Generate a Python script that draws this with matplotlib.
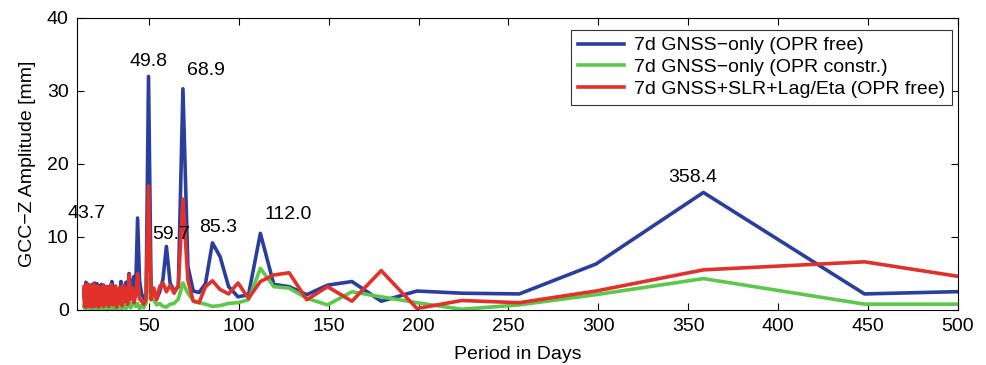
import matplotlib
matplotlib.use("Agg")

import matplotlib.pyplot as plt

plt.rcParams['font.family'] = ['Liberation Sans', 'DejaVu Sans']

# periods of the spectral lines [days], long to short
periods = [
    597.33, 448.00, 358.40, 298.67, 256.00, 224.00, 199.11, 179.20, 162.91, 149.33,
    137.85, 128.00, 119.47, 112.00, 105.41, 99.56, 94.32, 89.60, 85.33, 81.45,
    77.91, 74.67, 71.68, 68.92, 66.37, 64.00, 61.79, 59.73, 57.81, 56.00,
    54.30, 52.71, 51.20, 49.78, 48.43, 47.16, 45.95, 44.80, 43.71, 42.67,
    41.67, 40.73, 39.82, 38.96, 38.13, 37.33, 36.57, 35.84, 35.14, 34.46,
    33.81, 33.19, 32.58, 32.00, 31.44, 30.90, 30.37, 29.87, 29.38, 28.90,
    28.44, 28.00, 27.57, 27.15, 26.75, 26.35, 25.97, 25.60, 25.24, 24.89,
    24.55, 24.22, 23.89, 23.58, 23.27, 22.97, 22.68, 22.40, 22.12, 21.85,
    21.59, 21.33, 21.08, 20.84, 20.60, 20.36, 20.13, 19.91, 19.69, 19.48,
    19.27, 19.06, 18.86, 18.67, 18.47, 18.29, 18.10, 17.92, 17.74, 17.57,
    17.40, 17.23, 17.07, 16.91, 16.75, 16.59, 16.44, 16.29, 16.14, 16.00,
    15.86, 15.72, 15.58, 15.45, 15.32, 15.19, 15.06, 14.93, 14.81, 14.69,
    14.57, 14.45, 14.34, 14.22, 14.11, 14.00,
]

gnss_free = [
    3.1, 2.2, 16.1, 6.3, 2.2, 2.3, 2.6, 1.2, 3.9, 3.4,
    2.1, 3.2, 3.5, 10.5, 2.1, 1.8, 3.2, 7.3, 9.2, 3.6,
    2.4, 2.6, 6.0, 30.3, 3.2, 2.6, 3.7, 8.7, 4.2, 2.5,
    1.5, 2.8, 3.0, 32.0, 1.4, 1.6, 2.2, 4.0, 12.6, 3.0,
    4.6, 2.2, 3.5, 5.0, 2.0, 3.8, 1.5, 2.6, 1.2, 3.9,
    2.0, 1.0, 2.5, 1.3, 3.0, 1.8, 0.9, 2.2, 3.9, 1.5,
    2.8, 1.0, 2.4, 3.2, 1.2, 2.0, 0.8, 3.0, 1.6, 3.4,
    2.1, 1.0, 2.9, 3.5, 1.4, 2.6, 1.1, 3.3, 2.0, 1.2,
    3.0, 2.4, 3.6, 1.5, 2.8, 1.0, 3.4, 2.2, 3.7, 1.6,
    2.5, 1.2, 3.1, 2.0, 3.5, 1.3, 2.7, 1.0, 3.2, 2.3,
    1.1, 2.9, 3.4, 1.5, 2.6, 1.0, 3.0, 1.8, 3.3, 1.2,
    2.5, 3.6, 1.4, 2.8, 1.1, 3.0, 2.0, 3.8, 1.5, 2.7,
    1.0, 3.2, 2.2, 1.3, 2.9, 2.0,
]

gnss_constr = [
    0.8, 0.8, 4.3, 2.1, 0.7, 0.1, 1.0, 1.8, 2.5, 0.7,
    1.6, 3.0, 3.2, 5.7, 1.4, 1.0, 0.9, 0.6, 0.5, 0.8,
    1.0, 1.3, 2.3, 3.7, 1.5, 0.9, 0.8, 0.4, 0.5, 0.9,
    0.7, 1.4, 2.0, 4.2, 1.0, 0.3, 0.6, 0.2, 0.9, 0.5,
    1.4, 0.8, 0.3, 1.2, 0.6, 0.2, 0.9, 0.4, 0.1, 0.7,
    0.3, 0.8, 0.2, 0.5, 0.9, 0.1, 0.4, 0.7, 0.2, 0.6,
    0.3, 0.8, 0.1, 0.5, 0.7, 0.2, 0.4, 0.9, 0.3, 0.1,
    0.6, 0.4, 0.8, 0.2, 0.5, 0.1, 0.7, 0.3, 0.6, 0.2,
    0.8, 0.4, 0.1, 0.6, 0.3, 0.7, 0.2, 0.5, 0.1, 0.8,
    0.4, 0.6, 0.2, 0.5, 0.3, 0.7, 0.1, 0.4, 0.6, 0.2,
    0.8, 0.3, 0.5, 0.1, 0.7, 0.4, 0.2, 0.6, 0.3, 0.8,
    0.1, 0.5, 0.4, 0.7, 0.2, 0.6, 0.3, 0.5, 0.1, 0.8,
    0.4, 0.2, 0.6, 0.3, 0.7, 0.5,
]

gnss_slr = [
    0.9, 6.6, 5.5, 2.6, 1.0, 1.3, 0.2, 5.4, 1.2, 3.2,
    1.4, 5.1, 4.8, 3.9, 1.6, 3.7, 2.2, 2.8, 4.0, 3.2,
    1.0, 1.2, 4.1, 15.2, 3.4, 2.3, 3.4, 2.5, 3.7, 3.2,
    1.4, 3.0, 1.4, 17.0, 1.5, 0.8, 1.2, 1.5, 5.0, 2.0,
    1.0, 3.0, 1.5, 4.8, 0.8, 2.9, 1.2, 3.4, 0.6, 2.2,
    3.1, 0.9, 2.6, 0.4, 3.3, 1.5, 2.8, 0.7, 2.0, 3.5,
    1.1, 2.4, 0.5, 3.0, 1.8, 0.8, 3.2, 1.3, 2.6, 0.5,
    3.4, 1.6, 0.9, 2.9, 2.2, 0.6, 3.1, 1.4, 2.7, 0.4,
    2.0, 3.3, 1.0, 2.5, 0.7, 3.2, 1.7, 2.9, 0.5, 2.3,
    3.5, 1.2, 2.6, 0.8, 3.0, 1.9, 0.4, 2.8, 1.3, 3.3,
    0.9, 2.1, 0.6, 3.1, 1.5, 2.7, 0.5, 3.4, 1.8, 0.8,
    2.9, 1.2, 3.2, 0.6, 2.4, 1.6, 3.5, 0.9, 2.6, 0.4,
    3.0, 1.4, 2.8, 0.7, 3.3, 1.9,
]

series_labels = [
    '7d GNSS\u2212only (OPR free)',
    '7d GNSS\u2212only (OPR constr.)',
    '7d GNSS+SLR+Lag/Eta (OPR free)',
]
series_colors = ['#2a3f9d', '#5cc84a', '#e2302a']

# labelled peaks: text, x, y of the label
peak_labels = ['49.8', '68.9', '43.7', '59.7', '85.3', '112.0', '358.4']
peak_x = [50.0, 81.5, 15.6, 62.3, 88.4, 127.4, 352.4]
peak_y = [34.1, 32.8, 13.2, 10.3, 11.3, 13.1, 18.2]


def main():
    fig = plt.figure(figsize=(9.87, 3.65), dpi=100)
    ax = fig.add_axes([0.078, 0.1507, 0.8926, 0.8])

    for vals, lab, col in zip([gnss_free, gnss_constr, gnss_slr], series_labels, series_colors):
        ax.plot(periods, vals, color=col, lw=2.6, label=lab)

    for txt, x, y in zip(peak_labels, peak_x, peak_y):
        ax.text(x, y, txt, ha='center', va='center', fontsize=14)

    ax.set_xlim(10, 500)
    ax.set_ylim(0, 40)
    ax.set_xticks(range(50, 501, 50))
    ax.set_yticks(range(0, 41, 10))
    ax.tick_params(direction='in', length=5, width=0.8, top=True, right=True,
                   labelsize=14, pad=6)
    for s in ax.spines.values():
        s.set_linewidth(0.8)

    ax.set_xlabel('Period in Days', fontsize=14, labelpad=8)
    ax.set_ylabel('GCC\u2212Z Amplitude [mm]', fontsize=14, labelpad=8)

    leg = ax.legend(loc='upper right', bbox_to_anchor=(0.9932, 0.959), fontsize=14,
                    handlelength=2.4, handletextpad=0.5, labelspacing=0.22,
                    borderpad=0.35, borderaxespad=0, frameon=True, fancybox=False)
    leg.get_frame().set_edgecolor('black')
    leg.get_frame().set_linewidth(0.8)

    fig.savefig('out.png', dpi=100)


if __name__ == "__main__":
    main()
